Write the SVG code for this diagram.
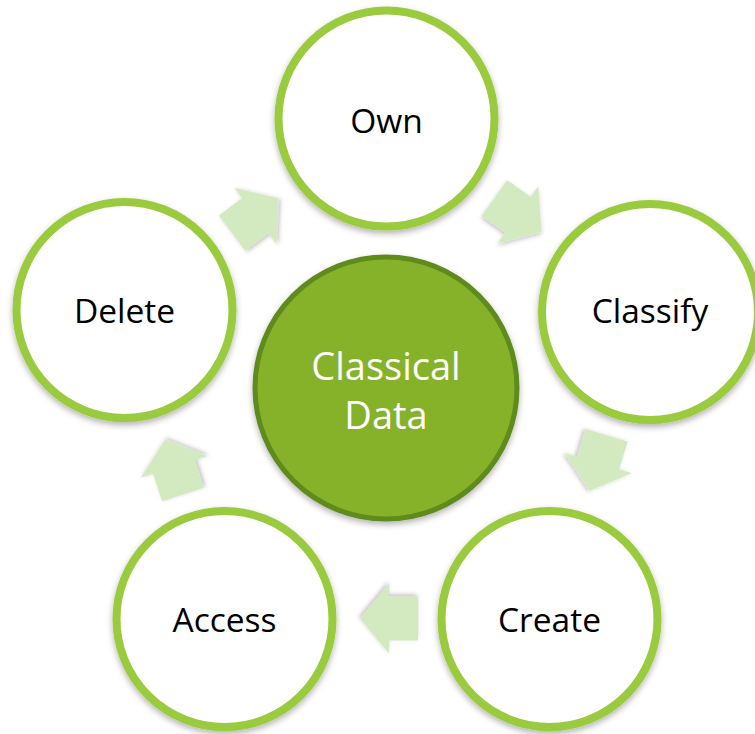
<svg xmlns="http://www.w3.org/2000/svg" width="755" height="734" viewBox="0 0 755 734">
<defs>
<style>
.ring{fill:#ffffff;stroke:#9ACA3C;stroke-width:8;filter:url(#sh)}
.core{fill:#86B22B;stroke:#5E8A1E;stroke-width:5;filter:url(#sh)}
.lbl{font-family:"Open Sans","Liberation Sans",sans-serif;font-size:33.5px;fill:#000000;text-anchor:middle}
.clbl{font-family:"Open Sans","Liberation Sans",sans-serif;font-size:38px;fill:#ffffff;text-anchor:middle}
.arr{fill:#D3E9BF;filter:url(#ash)}
</style>
<filter id="sh" x="-10%" y="-10%" width="120%" height="125%">
<feDropShadow dx="0" dy="3" stdDeviation="3" flood-color="#000000" flood-opacity="0.3"/>
</filter>
<filter id="ash" x="-20%" y="-20%" width="140%" height="140%">
<feDropShadow dx="1" dy="2" stdDeviation="2" flood-color="#000000" flood-opacity="0.25"/>
</filter>
<polygon id="arrow" points="-29,-22 0,-22 0,-35 29,0 0,35 0,22 -29,22"/>
</defs>
<rect width="755" height="734" fill="#ffffff"/>
<g id="connectors">
<use href="#arrow" class="arr" transform="translate(255.2,215.7) rotate(-37)"/>
<use href="#arrow" class="arr" transform="translate(518,214.8) rotate(35.4)"/>
<use href="#arrow" class="arr" transform="translate(598.2,463) rotate(106.8)"/>
<use href="#arrow" class="arr" transform="translate(389,618.6) rotate(180)"/>
<use href="#arrow" class="arr" transform="translate(174,467) rotate(-108)"/>
</g>
<g id="center">
<circle class="core" cx="386" cy="388" r="131"/>
<text class="clbl" x="386" y="380">Classical</text>
<text class="clbl" x="386" y="429">Data</text>
</g>
<g id="own">
<circle class="ring" cx="386.5" cy="118.5" r="108"/>
<text class="lbl" x="386.5" y="133">Own</text>
</g>
<g id="classify">
<circle class="ring" cx="650" cy="312" r="108"/>
<text class="lbl" x="650" y="323">Classify</text>
</g>
<g id="create">
<circle class="ring" cx="549.5" cy="619" r="108"/>
<text class="lbl" x="549.5" y="632">Create</text>
</g>
<g id="access">
<circle class="ring" cx="224.5" cy="619" r="108"/>
<text class="lbl" x="224.5" y="632">Access</text>
</g>
<g id="delete">
<circle class="ring" cx="124.5" cy="310" r="108"/>
<text class="lbl" x="124.5" y="323">Delete</text>
</g>
</svg>
